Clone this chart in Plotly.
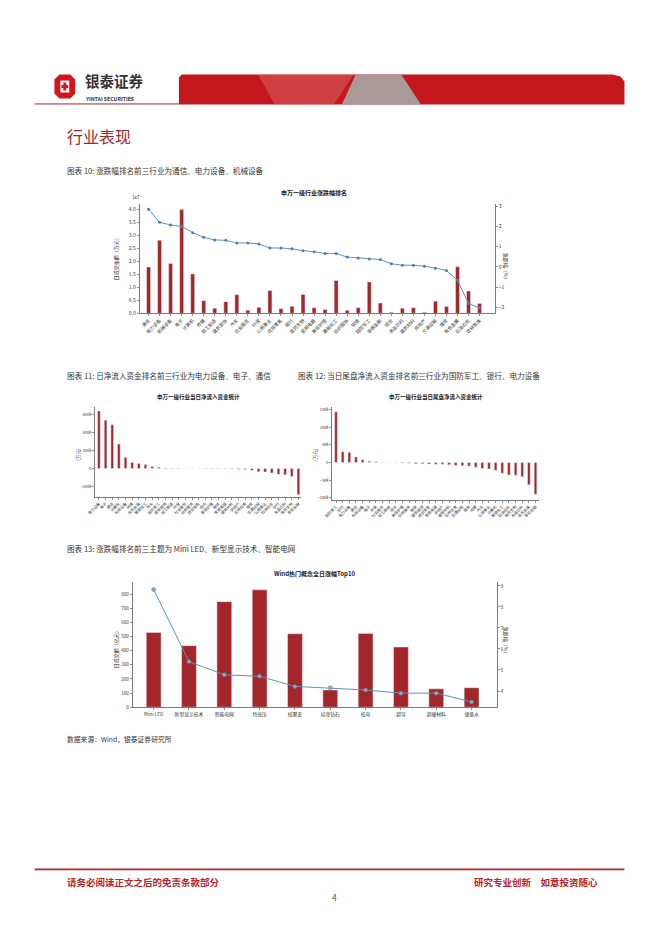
import plotly.graph_objects as go

W, H = 662, 936
def X(px): return px / W
def Y(py): return 1 - py / H

CJK = "Noto Sans CJK SC"
BAR = "#A3262A"
LINE = "#5A96B6"
MARK = "#4F7FA6"
AX = "#444444"

# ---------- Chart 1: 申万一级行业涨跌幅排名 ----------
ind1 = ["通信", "电力设备", "机械设备", "电子", "计算机", "传媒", "轻工制造", "建筑装饰",
        "汽车", "社会服务", "环保", "公用事业", "商贸零售", "银行", "医药生物", "家用电器",
        "美容护理", "基础化工", "纺织服饰", "钢铁", "国防军工", "非银金融", "综合", "食品饮料",
        "建筑材料", "房地产", "交通运输", "煤炭", "有色金属", "石油石化", "农林牧渔"]
amt1 = [1.79, 2.82, 1.92, 4.00, 1.52, 0.49, 0.20, 0.45, 0.72, 0.12, 0.23, 0.88, 0.18, 0.27,
        0.73, 0.22, 0.15, 1.27, 0.12, 0.22, 1.21, 0.40, 0.04, 0.20, 0.22, 0.04, 0.47, 0.26,
        1.80, 0.86, 0.38]  # unit: 1e7 万元
chg1 = [2.85, 2.20, 2.07, 2.00, 1.69, 1.46, 1.33, 1.31, 1.18, 1.18, 1.13, 0.93, 0.93, 0.89,
        0.80, 0.75, 0.66, 0.66, 0.48, 0.43, 0.39, 0.36, 0.15, 0.08, 0.08, 0.03, -0.07, -0.18,
        -0.67, -1.82, -2.03]
amt1_ticks = [0, 0.5, 1.0, 1.5, 2.0, 2.5, 3.0, 3.5, 4.0]
chg1_ticks = [-2, -1, 0, 1, 2, 3]

# ---------- Chart 2: 当日净流入资金 ----------
flow_names = ["电力设备", "电子", "通信", "计算机", "机械设备", "传媒", "有色金属", "基础化工",
              "汽车", "国防军工", "建筑装饰", "轻工制造", "环保", "社会服务", "纺织服饰", "商贸零售",
              "综合", "美容护理", "钢铁", "家用电器", "建筑材料", "房地产", "农林牧渔", "煤炭",
              "交通运输", "公用事业", "石油石化", "银行", "食品饮料", "医药生物", "非银金融"]
flow_vals = [644000, 541000, 489000, 274000, 126000, 67000, 56000, 44000, 22000, 15000, 7000,
             4000, 2000, 1000, 500, -500, -1000, -1500, -2000, -3000, -5000, -8000, -12000,
             -20000, -35000, -40000, -50000, -65000, -70000, -90000, -289000]
flow_ticks = [-200000, 0, 200000, 400000, 600000]

# ---------- Chart 3: 当日尾盘净流入资金 ----------
tail_names = ["国防军工", "银行", "电力设备", "通信", "机械设备", "电子", "环保", "社会服务",
              "轻工制造", "综合", "美容护理", "纺织服饰", "钢铁", "建筑装饰", "商贸零售", "家用电器",
              "房地产", "建筑材料", "农林牧渔", "交通运输", "煤炭", "传媒", "汽车", "公用事业",
              "计算机", "基础化工", "石油石化", "医药生物", "食品饮料", "有色金属", "非银金融"]
tail_vals = [144000, 31000, 29000, 16000, 8000, 4000, 2000, 1000, 500, 0, -1000, -2000, -3000,
             -3500, -4000, -4500, -5000, -6000, -8000, -9000, -10000, -13000, -17000, -18000,
             -22000, -30000, -35000, -36000, -40000, -63000, -90000]
tail_ticks = [-100000, -50000, 0, 50000, 100000, 150000]

# ---------- Chart 4: Wind热门概念全日涨幅Top10 ----------
concepts = ["Mini LED", "新型显示技术", "智能电网", "特高压", "核聚变", "培育钻石", "核电",
            "超导", "超硬材料", "储备水"]
concept_amt = [529, 435, 746, 830, 519, 122, 522, 426, 130, 138]
concept_chg = [8.83, 5.40, 4.77, 4.70, 4.22, 4.15, 4.05, 3.90, 3.90, 3.48]
amt4_ticks = [0, 100, 200, 300, 400, 500, 600, 700, 800]
chg4_ticks = [4, 5, 6, 7, 8, 9]

fig = go.Figure()

fig.add_trace(go.Bar(x=ind1, y=[v * 1e7 for v in amt1], marker_color=BAR, width=0.36,
                     xaxis="x", yaxis="y", showlegend=False))
fig.add_trace(go.Scatter(x=ind1, y=chg1, mode="lines+markers", xaxis="x", yaxis="y2",
                         line=dict(color=LINE, width=1), marker=dict(size=3, color=MARK),
                         showlegend=False))
fig.add_trace(go.Bar(x=flow_names, y=flow_vals, marker_color=BAR, width=0.4,
                     xaxis="x2", yaxis="y3", showlegend=False))
fig.add_trace(go.Bar(x=tail_names, y=tail_vals, marker_color=BAR, width=0.4,
                     xaxis="x3", yaxis="y4", showlegend=False))
fig.add_trace(go.Bar(x=concepts, y=concept_amt, marker_color=BAR, width=0.42,
                     xaxis="x4", yaxis="y5", showlegend=False))
fig.add_trace(go.Scatter(x=concepts, y=concept_chg, mode="lines+markers", xaxis="x4", yaxis="y6",
                         line=dict(color=LINE, width=1),
                         marker=dict(size=4, color="#8FA8C0", line=dict(color=MARK, width=0.5)),
                         showlegend=False))

def ax(**kw):
    d = dict(showline=True, linecolor=AX, linewidth=0.7, ticks="outside", ticklen=2,
             tickwidth=0.6, tickcolor=AX, showgrid=False, zeroline=False,
             tickfont=dict(family=CJK, size=5, color="#333"))
    d.update(kw)
    return d

layout = dict(
    width=W, height=H, margin=dict(l=0, r=0, t=0, b=0), autosize=False,
    paper_bgcolor="white", plot_bgcolor="rgba(0,0,0,0)", bargap=0.5,
    xaxis=ax(domain=[X(133), X(493)], anchor="y", range=[-0.83, 31.4], tickangle=-45,
             tickfont=dict(family=CJK, size=4.6, color="#333")),
    yaxis=ax(domain=[Y(313), Y(203)], anchor="x", range=[0, 4.22e7],
             tickvals=[t * 1e7 for t in amt1_ticks], ticktext=[f"{t:.1f}" for t in amt1_ticks]),
    yaxis2=ax(overlaying="y", side="right", anchor="x", range=[-2.3, 3.11],
              tickvals=chg1_ticks),
    xaxis2=ax(domain=[X(88), X(297)], anchor="y3", range=[-0.6, 30.45], tickangle=-45,
              tickfont=dict(family=CJK, size=3.8, color="#333")),
    yaxis3=ax(domain=[Y(498), Y(407)], anchor="x2", range=[-322000, 690000],
              tickvals=flow_ticks, tickfont=dict(family=CJK, size=4, color="#333")),
    xaxis3=ax(domain=[X(328), X(537)], anchor="y4", range=[-0.6, 30.45], tickangle=-45,
              tickfont=dict(family=CJK, size=3.8, color="#333")),
    yaxis4=ax(domain=[Y(501), Y(407)], anchor="x3", range=[-107000, 158000],
              tickvals=tail_ticks, tickfont=dict(family=CJK, size=4, color="#333")),
    xaxis4=ax(domain=[X(126), X(495)], anchor="y5", range=[-0.6, 9.72], tickangle=0,
              tickfont=dict(family=CJK, size=4.8, color="#333")),
    yaxis5=ax(domain=[Y(709), Y(583)], anchor="x4", range=[0, 886], tickvals=amt4_ticks,
              tickfont=dict(family=CJK, size=4.6, color="#333")),
    yaxis6=ax(overlaying="y5", side="right", anchor="x4", range=[3.23, 9.19], tickvals=chg4_ticks,
              tickfont=dict(family=CJK, size=4.6, color="#333")),
)
fig.update_layout(**layout)

ann = []
def T(x, y, text, size=7, color="#222", xanchor="left", yanchor="middle", angle=0, bold=False):
    if bold:
        text = f"<b>{text}</b>"
    ann.append(dict(x=X(x), y=Y(y), xref="paper", yref="paper", text=text, showarrow=False,
                    xanchor=xanchor, yanchor=yanchor, textangle=angle, borderpad=0,
                    font=dict(family=CJK, size=size, color=color)))

DARKRED = "#A3262A"
TXT = "#333333"
# header text
T(77, 90, "银泰证券", size=14.5, color=TXT, bold=True, yanchor="bottom")
T(77, 92, "YINTAI SECURITIES", size=5.2, color=TXT, bold=True, yanchor="top")
T(59, 135, "行业表现", size=16, color=DARKRED)
T(59, 169, "图表 10: 涨跌幅排名前三行业为通信、电力设备、机械设备", size=7.6, color=TXT)
T(59, 376, "图表 11: 日净流入资金排名前三行业为电力设备、电子、通信", size=7.6, color=TXT)
T(293, 376, "图表 12: 当日尾盘净流入资金排名前三行业为国防军工、银行、电力设备", size=7.6, color=TXT)
T(59, 549, "图表 13: 涨跌幅排名前三主题为 Mini LED、新型显示技术、智能电网", size=7.6, color=TXT)
T(59, 741, "数据来源：Wind，银泰证券研究所", size=6.8, color=TXT)

# chart titles
T(310, 192, "申万一级行业涨跌幅排名", size=6, xanchor="center", bold=True)
T(193, 397, "申万一级行业当日净流入资金统计", size=5.5, xanchor="center", bold=True)
T(433, 397, "申万一级行业当日尾盘净流入资金统计", size=5.5, xanchor="center", bold=True)
T(310, 575, "Wind热门概念全日涨幅Top10", size=6, xanchor="center", bold=True)

# axis titles
T(109, 257, "日成交金额（万元）", size=5, xanchor="center", angle=-90)
T(124, 200, "1e7", size=4.6, xanchor="left", yanchor="bottom")
T(505, 267, "涨跌幅（%）", size=5, xanchor="center", angle=90)
T(71, 455, "(万元)", size=4.6, xanchor="center", angle=-90)
T(311, 455, "(万元)", size=4.6, xanchor="center", angle=-90)
T(109, 650, "日成交额（亿元）", size=5, xanchor="center", angle=-90)
T(505, 643, "涨跌幅（%）", size=5, xanchor="center", angle=90)

# footer
T(59, 885, "请务必阅读正文之后的免责条款部分", size=9.5, color="#B8232A", bold=True)
T(598, 885, "研究专业创新　如意投资随心", size=9.5, color="#B8232A", xanchor="right", bold=True)
T(330, 900, "4", size=8.5, color="#555", xanchor="center")

shapes = []
def rect(x0, y0, x1, y1, color, line=None, layer="above"):
    shapes.append(dict(type="rect", xref="paper", yref="paper", x0=X(x0), x1=X(x1),
                       y0=Y(y1), y1=Y(y0), fillcolor=color,
                       line=dict(width=0) if line is None else line, layer=layer))
def poly(pts, color, opacity=1.0):
    path = "M " + " L ".join(f"{X(a):.5f},{Y(b):.5f}" for a, b in pts) + " Z"
    shapes.append(dict(type="path", xref="paper", yref="paper", path=path,
                       fillcolor=color, opacity=opacity, line=dict(width=0), layer="above"))
def hline(x0, x1, y, color, w):
    shapes.append(dict(type="line", xref="paper", yref="paper", x0=X(x0), x1=X(x1),
                       y0=Y(y), y1=Y(y), line=dict(color=color, width=w)))

# banner
poly([(173, 76), (176, 73), (612, 73), (620, 75), (624, 80), (624, 103), (173, 103)], "#C4161C")
poly([(253, 73), (350, 73), (330, 103), (270, 103)], "#E07070", 0.45)
poly([(352, 73), (398, 73), (418, 103), (338, 103)], "#A9A9A9", 0.9)
hline(27, 173, 102.5, "#A3262A", 1)
# logo icon
poly([(52, 73), (63, 73), (68, 78), (68, 92), (63, 97), (52, 97), (47, 92), (47, 78)], "#D7141A")
rect(53, 79, 62, 91, "white")
rect(56, 81, 59, 89, "#D7141A")
rect(54, 83.5, 61, 86.5, "#D7141A")
# footer line
hline(27, 624, 872, "#B8232A", 1.6)

fig.update_layout(annotations=ann, shapes=shapes)
fig.write_html("out.html", config={"displayModeBar": False, "staticPlot": True},
               post_script="document.body.style.margin='0px';document.body.style.padding='0px';"
                           "document.documentElement.style.overflow='hidden';")
